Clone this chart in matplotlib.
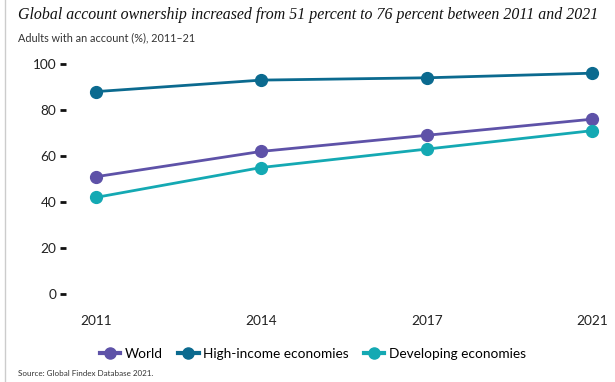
import matplotlib
matplotlib.use("Agg")
import matplotlib.pyplot as plt
from matplotlib.lines import Line2D

years = ["2011", "2014", "2017", "2021"]
world = [51, 62, 69, 76]
high_income = [88, 93, 94, 96]
developing = [42, 55, 63, 71]
series_names = ["World", "High-income economies", "Developing economies"]
colors = ["#5E52A8", "#0B6A8F", "#14A9B3"]
yticks = [0, 20, 40, 60, 80, 100]

plt.rcParams["font.family"] = ["Lato", "DejaVu Sans"]

W, H = 615, 382
fig = plt.figure(figsize=(W / 100, H / 100), dpi=100)
fig.patch.set_facecolor("white")

left_px, right_px = 66, 606
bottom_px, top_px = 294, 64
ax = fig.add_axes([left_px / W, (H - bottom_px) / H, (right_px - left_px) / W, (bottom_px - top_px) / H])
ax.set_facecolor("none")

x = list(range(len(years)))
for vals, name, c in zip([world, high_income, developing], series_names, colors):
    ax.plot(x, vals, color=c, lw=2.0, marker="o", markersize=8.5, label=name, clip_on=False, zorder=3)

ax.set_xlim(-30 / 165, 3 + 14 / 165)
ax.set_ylim(0, 100)
ax.set_xticks(x)
ax.set_xticklabels(years)
ax.set_yticks(yticks)
for s in ax.spines.values():
    s.set_visible(False)
ax.tick_params(axis="x", length=0, pad=15, labelsize=9.8, labelcolor="#222222")
ax.tick_params(axis="y", length=4, width=2, color="#111111", pad=3, labelsize=9.8, labelcolor="#222222")

fig.text(18 / W, 1 - 15 / H, "Global account ownership increased from 51 percent to 76 percent between 2011 and 2021",
         family="Liberation Serif", style="italic", fontsize=11.4, va="center", ha="left", color="#111111")
fig.text(18 / W, 1 - 38 / H, "Adults with an account (%), 2011\u201321", fontsize=7.8, va="center", ha="left", color="#333333")
fig.text(18 / W, 1 - 373 / H, "Source: Global Findex Database 2021.", fontsize=5.8, va="center", ha="left", color="#333333")

handles = [Line2D([0], [0], color=c, lw=3, marker="o", markersize=8) for c in colors]
fig.legend(handles, series_names, loc="center", bbox_to_anchor=(313 / W, 1 - 354 / H), ncol=3, frameon=False,
           fontsize=9.8, handlelength=1.5, handletextpad=0.35, columnspacing=1.1)

fig.add_artist(Line2D([5 / W, 5 / W], [0, 1], color="#cccccc", lw=1, transform=fig.transFigure))

fig.savefig("out.png", dpi=100)
